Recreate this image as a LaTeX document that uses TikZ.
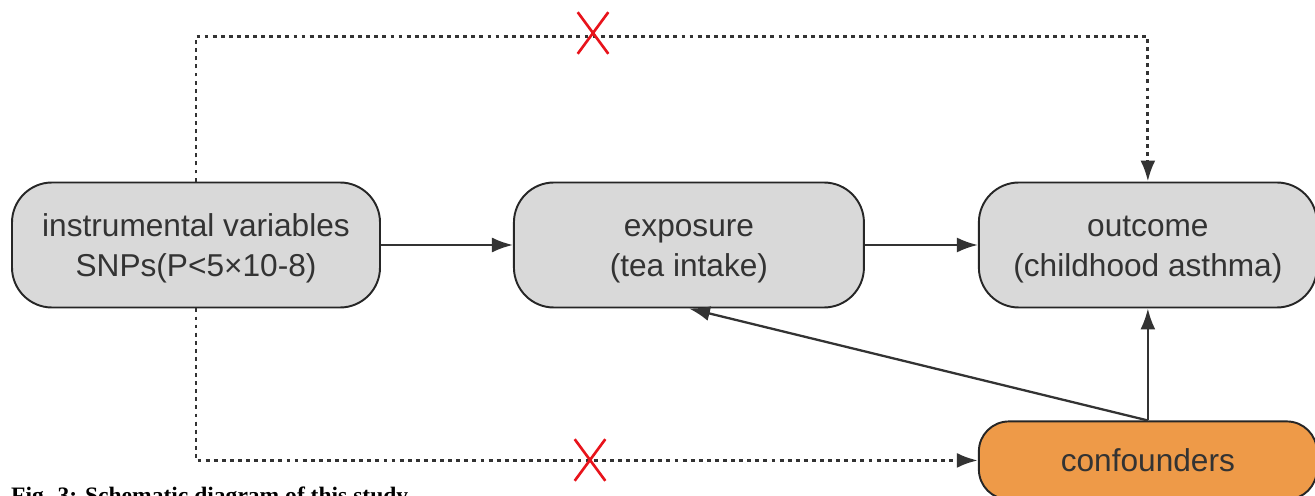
\documentclass[tikz,border=0pt]{standalone}
\usepackage{fontspec}
\setmainfont{Liberation Serif}
\setsansfont{Liberation Sans}
\usepackage{tikz}
\usetikzlibrary{arrows.meta,positioning,shapes.misc}
\definecolor{boxgray}{HTML}{D9D9D9}
\definecolor{confor}{HTML}{EE9A48}
\definecolor{inkgray}{HTML}{333333}
\definecolor{crossred}{HTML}{E8131B}

\begin{document}
\begin{tikzpicture}[
  every node/.style={font=\sffamily\fontsize{18}{22.7}\selectfont,align=center,text=inkgray},
  stage/.style={draw=black!85,line width=1.1pt,rounded corners=8mm,fill=boxgray,minimum height=25mm},
  twoline/.style={stage,text height=39.5pt},
  arr/.style={-{Latex[length=4.2mm,width=3mm]},line width=1.3pt,color=black!80},
  dotarr/.style={arr,line width=1.7pt,dash pattern=on 2.2pt off 2.4pt},
  nolink/.style={cross out,draw=crossred,line width=1.5pt,minimum width=5.6mm,minimum height=7.8mm,inner sep=0pt}
]
\useasboundingbox (0,0) rectangle (26.3,9.9);
\node[twoline,minimum width=73.6mm] (iv) at (3.92,5) {instrumental variables\\SNPs(P<5×10-8)};
\node[twoline,minimum width=70mm,right=26.4mm of iv] (exposure) {exposure\\(tea intake)};
\node[twoline,minimum width=67.6mm,right=22.6mm of exposure] (outcome) {outcome\\(childhood asthma)};
\node[stage,fill=confor,rounded corners=6mm,minimum width=67.6mm,minimum height=15.6mm,below=22.4mm of outcome] (conf) {confounders};
\draw[arr] (iv) -- (exposure);
\draw[arr] (exposure) -- (outcome);
\draw[arr] (conf.north) -- (outcome.south);
\draw[arr] (conf.north) -- (exposure.south);
\draw[dotarr] (iv.north) -- ++(0,2.9) -| (outcome.north);
\draw[dotarr] (iv.south) |- (conf.west);
\node[nolink] (cut1) at (11.86,9.24) {};
\node[nolink] (cut2) at (11.8,0.7) {};
\node[font=\rmfamily\bfseries\fontsize{13.4}{16}\selectfont,text=black,anchor=base west] (caption) at (0.1,-0.16) {Fig. 3: Schematic diagram of this study};
\end{tikzpicture}
\end{document}
